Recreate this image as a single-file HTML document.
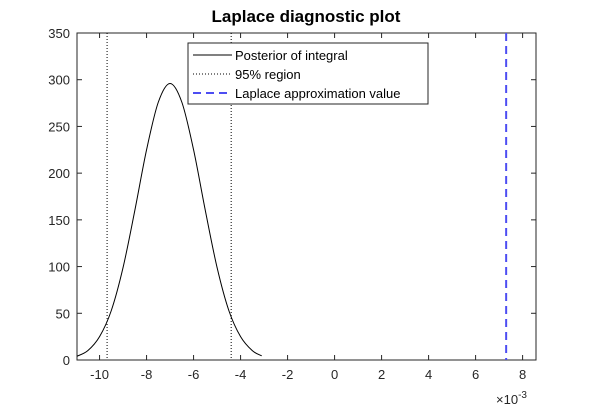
<!DOCTYPE html>
<html><head><meta charset="utf-8"><style>
body{margin:0;background:#fff;}
svg{font-family:"Liberation Sans",Arial,sans-serif;}
</style></head><body>
<svg id="chart" width="593" height="410" viewBox="0 0 593 410" xmlns="http://www.w3.org/2000/svg">
<rect width="593" height="410" fill="#fff"/>
<text x="306" y="22" text-anchor="middle" font-size="17" font-weight="bold" fill="#000">Laplace diagnostic plot</text>
<g id="plot"></g>
</svg>
<script>
const xs = [-10.96,-10.5,-10,-9.5,-9,-8.5,-8,-7.5,-7,-6.5,-6,-5.5,-5,-4.5,-4,-3.5,-3.1];
const density = [4,10,25,53,99,160,225,276,296,276,225,160,99,53,25,10,4.5];
const regionBounds = [-9.68,-4.4];
const laplaceValue = [7.3];
const xTicks = [-10,-8,-6,-4,-2,0,2,4,6,8];
const yTicks = [0,50,100,150,200,250,300,350];

const L=77,R=536,T=33,B=360, xmin=-10.96,xmax=8.57,ymin=0,ymax=350;
const sx=v=>L+(v-xmin)/(xmax-xmin)*(R-L);
const sy=v=>B-(v-ymin)/(ymax-ymin)*(B-T);
const NS="http://www.w3.org/2000/svg";
const g=document.getElementById('plot');
function mk(tag,attrs,parent){const e=document.createElementNS(NS,tag);for(const k in attrs)e.setAttribute(k,attrs[k]);(parent||g).appendChild(e);return e;}

// axes box
const box=mk('rect',{x:L,y:T,width:R-L,height:B-T,fill:'none',stroke:'#262626','stroke-width':1});



xTicks.forEach(t=>{
  const x=sx(t);
  mk('line',{x1:x,x2:x,y1:B,y2:B-5,stroke:'#262626'});
  mk('line',{x1:x,x2:x,y1:T,y2:T+5,stroke:'#262626'});
  const tx=mk('text',{x:x,y:B+19,'text-anchor':'middle','font-size':13,fill:'#262626'});
  tx.textContent=t;
  
  
});
yTicks.forEach(t=>{
  const y=sy(t);
  mk('line',{x1:L,x2:L+5,y1:y,y2:y,stroke:'#262626'});
  mk('line',{x1:R,x2:R-5,y1:y,y2:y,stroke:'#262626'});
  const tx=mk('text',{x:L-7,y:y+5,'text-anchor':'end','font-size':13,fill:'#262626'});
  tx.textContent=t;
  
  
});
const ex=mk('text',{x:496,y:404,'font-size':13,fill:'#262626'});
ex.innerHTML='×10<tspan dy="-6" font-size="10">-3</tspan>';



// posterior curve (Catmull-Rom)
const pts=xs.map((x,i)=>[sx(x),sy(density[i])]);
let d='M'+pts[0][0]+','+pts[0][1];
for(let i=0;i<pts.length-1;i++){
  const p0=pts[Math.max(0,i-1)],p1=pts[i],p2=pts[i+1],p3=pts[Math.min(pts.length-1,i+2)];
  d+=' C'+(p1[0]+(p2[0]-p0[0])/6)+','+(p1[1]+(p2[1]-p0[1])/6)+' '+(p2[0]-(p3[0]-p1[0])/6)+','+(p2[1]-(p3[1]-p1[1])/6)+' '+p2[0]+','+p2[1];
}
const curve=mk('path',{d:d,fill:'none',stroke:'#000','stroke-width':1});



regionBounds.forEach(v=>{
  const l=mk('line',{x1:sx(v),x2:sx(v),y1:T,y2:B,stroke:'#000','stroke-dasharray':'1,2'});
  
  
});
laplaceValue.forEach(v=>{
  const l=mk('line',{x1:sx(v),x2:sx(v),y1:T,y2:B,stroke:'#4d4df2','stroke-width':2,'stroke-dasharray':'8,5'});
  
  
});

// legend
const lg=mk('g',{});


mk('rect',{x:188,y:43,width:240,height:61,fill:'#fff',stroke:'#262626'},lg);
const items=[['Posterior of integral','#000',1,'none'],['95% region','#000',1,'1,2'],['Laplace approximation value','#4d4df2',2,'8,5']];
items.forEach((it,i)=>{
  const y=55+i*19;
  mk('line',{x1:193,x2:232,y1:y,y2:y,stroke:it[1],'stroke-width':it[2],'stroke-dasharray':it[3]},lg);
  const t=mk('text',{x:235,y:y+5,'font-size':13,fill:'#000'},lg);
  t.textContent=it[0];
  
  
});
</script>
</body></html>
